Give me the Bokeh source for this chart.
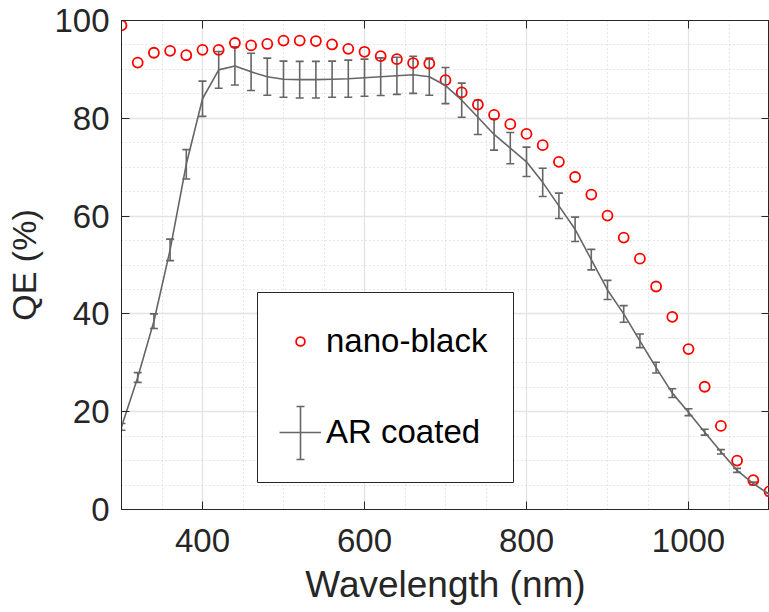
from bokeh.plotting import figure
from bokeh.models import (ColumnDataSource, Whisker, TeeHead, SingleIntervalTicker,
                          LinearAxis, Range1d, Legend, LegendItem, BoxAnnotation)
from bokeh.embed import file_html
from bokeh.resources import INLINE

wavelength = [300, 320, 340, 360, 380, 400, 420, 440, 460, 480, 500, 520, 540, 560,
              580, 600, 620, 640, 660, 680, 700, 720, 740, 760, 780, 800, 820, 840,
              860, 880, 900, 920, 940, 960, 980, 1000, 1020, 1040, 1060, 1080, 1100]

nano_black = [99.0, 91.4, 93.4, 93.8, 92.9, 94.0, 94.0, 95.4, 94.9, 95.2, 95.9, 95.9,
              95.8, 95.1, 94.2, 93.6, 92.7, 92.1, 91.3, 91.2, 87.8, 85.3, 82.8, 80.7,
              78.8, 76.8, 74.5, 71.1, 68.0, 64.4, 60.1, 55.6, 51.3, 45.6, 39.4, 32.8,
              25.1, 17.1, 10.0, 6.0, 3.7]

ar_coated = [16.9, 27.0, 38.5, 53.1, 70.6, 84.0, 89.9, 90.7, 89.5, 88.5, 88.0, 87.9,
             87.9, 88.0, 88.1, 88.3, 88.5, 88.7, 88.9, 88.5, 86.7, 83.7, 80.2, 76.7,
             73.9, 71.1, 66.9, 62.1, 57.3, 51.1, 44.9, 40.0, 34.5, 29.0, 23.8, 19.9,
             15.8, 11.8, 8.0, 5.3, 3.1]

ar_error = [0.7, 1.0, 1.5, 2.2, 3.0, 3.6, 3.75, 3.9, 3.8, 3.8, 3.7, 3.75, 3.75, 3.7,
            3.8, 3.8, 3.85, 3.8, 3.8, 3.8, 3.7, 3.5, 3.5, 3.2, 3.2, 3.0, 2.9, 2.6,
            2.5, 2.1, 1.95, 1.7, 1.4, 1.1, 0.9, 0.7, 0.6, 0.45, 0.4, 0.3, 0.3]

x_ticks_interval = 200
y_ticks_interval = 20

FONT = "Liberation Sans"
AX = "#262626"
GREY = "#666666"

src = ColumnDataSource(dict(
    x=wavelength, nb=nano_black, ar=ar_coated,
    lo=[m - e for m, e in zip(ar_coated, ar_error)],
    hi=[m + e for m, e in zip(ar_coated, ar_error)],
))

p = figure(width=769, height=612, output_backend="svg", toolbar_location=None,
           x_range=Range1d(300, 1100), y_range=Range1d(0, 100),
           min_border_left=121, min_border_top=20, min_border_bottom=103,
           min_border_right=0)
p.background_fill_color = "white"
p.border_fill_color = "white"
p.outline_line_color = AX
p.outline_line_width = 1

xt = SingleIntervalTicker(interval=x_ticks_interval, num_minor_ticks=4)
yt = SingleIntervalTicker(interval=y_ticks_interval, num_minor_ticks=4)
p.xaxis.ticker = xt
p.yaxis.ticker = yt

for ax in (p.xaxis[0], p.yaxis[0]):
    ax.axis_line_color = AX
    ax.major_tick_line_color = AX
    ax.major_tick_in = 8
    ax.major_tick_out = 0
    ax.minor_tick_in = 0
    ax.minor_tick_out = 0
    ax.major_label_text_font = FONT
    ax.major_label_text_font_size = "33px"
    ax.major_label_text_color = AX
    ax.axis_label_text_font = FONT
    ax.axis_label_text_font_style = "normal"
    ax.axis_label_text_color = AX

p.xaxis.axis_label = "Wavelength (nm)"
p.yaxis.axis_label = "QE (%)"
p.xaxis.axis_label_text_font_size = "37px"
p.yaxis.axis_label_text_font_size = "34px"
p.xaxis.major_label_standoff = 19
p.xaxis.axis_label_standoff = 9
p.yaxis.major_label_standoff = 12
p.yaxis.axis_label_standoff = 8

for loc, tk in (("above", xt), ("right", yt)):
    a = LinearAxis(ticker=tk)
    a.axis_line_color = AX
    a.major_tick_line_color = AX
    a.major_tick_in = 8
    a.major_tick_out = 0
    a.minor_tick_in = 0
    a.minor_tick_out = 0
    a.major_label_text_font_size = "0px"
    a.major_label_standoff = 0
    p.add_layout(a, loc)

p.xgrid.grid_line_color = "#e3e3e3"
p.ygrid.grid_line_color = "#e3e3e3"
p.xgrid.grid_line_width = 1.3
p.ygrid.grid_line_width = 1.3
for g in (p.xgrid[0], p.ygrid[0]):
    g.minor_grid_line_color = "#cfcfcf"
    g.minor_grid_line_dash = "1 3"
    g.minor_grid_line_width = 1

r_nb = p.scatter("x", "nb", source=src, marker="circle", size=10, fill_color=None,
                 line_color="#ff0000", line_width=1.8)
r_ar = p.line("x", "ar", source=src, line_color=GREY, line_width=1.6)

wh = Whisker(source=src, base="x", lower="lo", upper="hi", dimension="height",
             line_color=GREY, line_width=1.6,
             upper_head=TeeHead(size=8, line_color=GREY, line_width=1.6),
             lower_head=TeeHead(size=8, line_color=GREY, line_width=1.6))
p.add_layout(wh)

# legend frame (screen units, relative to the plot frame)
leg_box = BoxAnnotation(left=136, right=392, bottom=27, top=217,
                        left_units="screen", right_units="screen",
                        bottom_units="screen", top_units="screen",
                        fill_color="white", fill_alpha=1,
                        line_color=AX, line_width=1, line_alpha=1)
p.add_layout(leg_box)

legend = Legend(items=[LegendItem(label="nano-black", renderers=[r_nb]),
                       LegendItem(label="AR coated", renderers=[r_ar])],
                location=(136, 27), orientation="vertical",
                glyph_width=42, glyph_height=22, label_height=56,
                label_standoff=5, padding=22, spacing=35, margin=0,
                label_text_font=FONT, label_text_font_size="33px",
                label_text_color="#000000",
                border_line_color="white", border_line_alpha=0,
                background_fill_alpha=0)
p.add_layout(legend, "center")

# vertical error-bar icon of the "AR coated" legend entry
leg_src = ColumnDataSource(dict(b=[179], lo=[50], hi=[103]))
leg_wh = Whisker(source=leg_src, base="b", lower="lo", upper="hi", dimension="height",
                 base_units="screen", lower_units="screen", upper_units="screen",
                 line_color=GREY, line_width=1.6, level="overlay",
                 upper_head=TeeHead(size=8, line_color=GREY, line_width=1.6),
                 lower_head=TeeHead(size=8, line_color=GREY, line_width=1.6))
p.add_layout(leg_wh)

open("out.html", "w").write(file_html(p, INLINE))
